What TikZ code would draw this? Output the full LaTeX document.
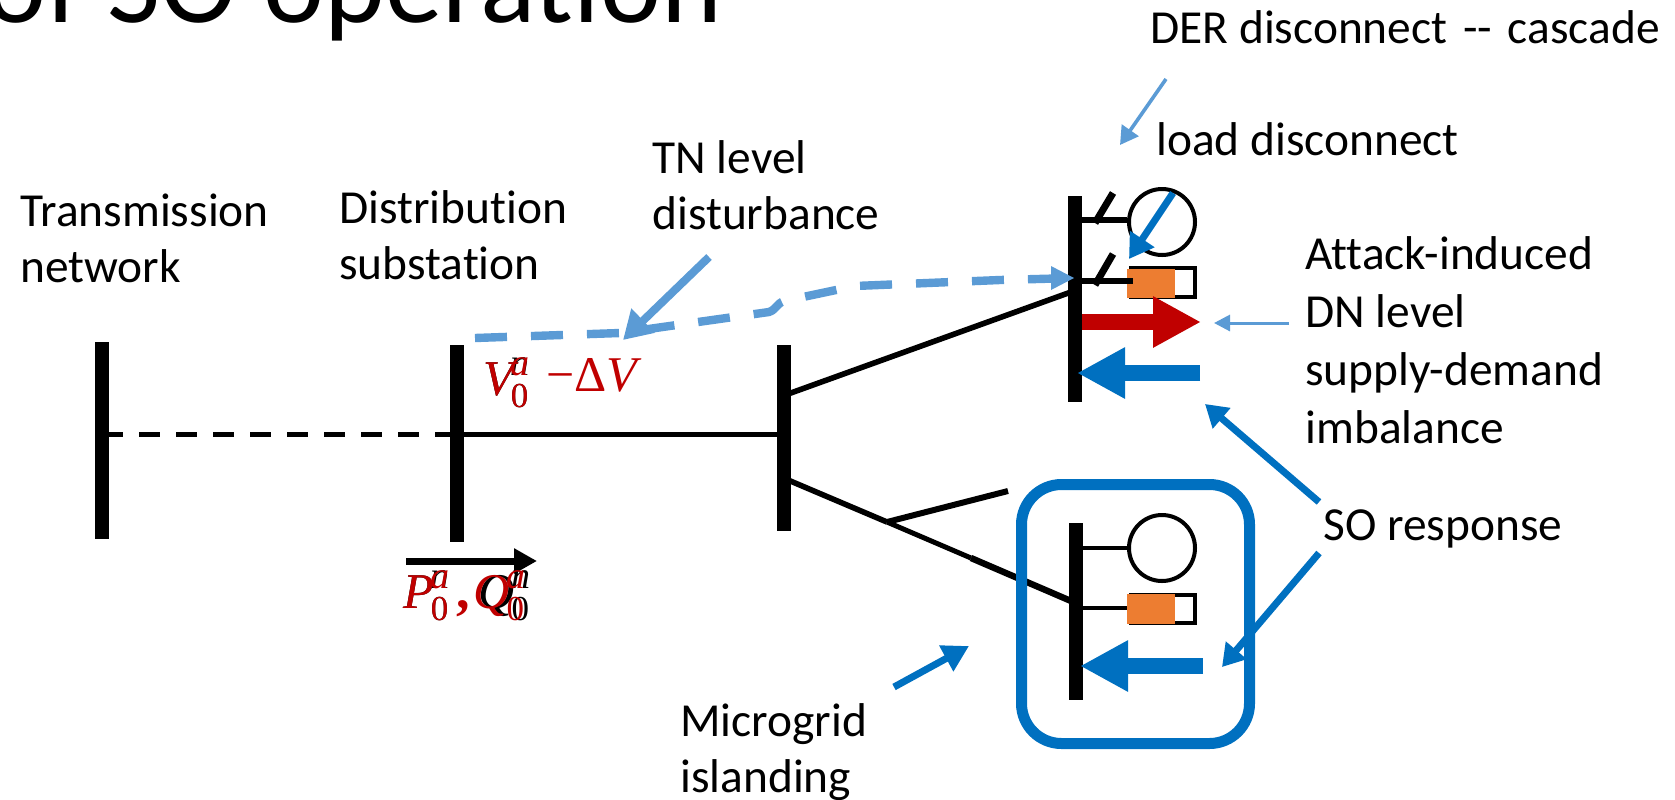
\documentclass[tikz,border=0pt]{standalone}
\usepackage{fontspec}
\setmainfont{Carlito}[Ligatures=NoCommon]
\newfontfamily\mfont{Liberation Serif}
\usetikzlibrary{arrows.meta}
\definecolor{sblue}{HTML}{0070C0}
\definecolor{lblue}{HTML}{5B9BD5}
\definecolor{dred}{HTML}{C00000}
\definecolor{orng}{HTML}{ED7D31}
\newcommand{\msym}[3]{{\mfont\fontsize{25}{26}\selectfont\itshape #1}\kern-1.5pt\rlap{\raisebox{10pt}{\mfont\fontsize{19}{20}\selectfont\itshape #2}}\raisebox{-6pt}{\mfont\fontsize{17.5}{20}\selectfont #3}}
\tikzset{
  x=0.5pt,y=-0.5pt,
  busbar/.style={line width=7pt},
  wire/.style={line width=2.8pt},
  thinwire/.style={line width=2.5pt},
  blade/.style={line width=3.5pt},
  txt/.style={font=\fontsize{23.7}{28}\selectfont,align=left,anchor=north west,inner sep=0pt},
  mth/.style={font=\mfont\fontsize{25}{26}\selectfont,inner sep=0pt,anchor=base west},
  bigarrow/.style={line width=8pt,-{Triangle[length=24pt,width=24pt]}},
  medarrow/.style={line width=3.5pt,-{Triangle[length=11pt,width=13pt]}},
  thinarrow/.style={line width=1.5pt,lblue,-{Triangle[length=8pt,width=8pt]}},
}
\begin{document}
\begin{tikzpicture}
\useasboundingbox (0,0) rectangle (1675,799);
\clip (0,0) rectangle (1675,799);
\node[inner sep=0pt,anchor=base west,font=\fontsize{57.8}{66}\selectfont] (title) at (-15,22) {of SO operation};
% buses
\coordinate (b1t) at (102,342); \coordinate (b1b) at (102,539);
\coordinate (b2t) at (456.5,345); \coordinate (b2b) at (456.5,542);
\coordinate (b3t) at (784,345); \coordinate (b3b) at (784,531);
\coordinate (b4t) at (1075,196); \coordinate (b4b) at (1075,402);
\coordinate (b5t) at (1075.5,523); \coordinate (b5b) at (1075.5,700);
\foreach \a/\b in {b1t/b1b,b2t/b2b,b3t/b3b,b4t/b4b,b5t/b5b}{\draw[busbar] (\a) -- (\b);}
% feeders
\coordinate (j1) at (102,434); \coordinate (j2) at (456.5,434); \coordinate (j3) at (784,434);
\draw[line width=2.5pt,dash pattern=on 10.5pt off 8pt] (j1) -- (j2);
\draw[line width=2.5pt] (j2) -- (j3);
\coordinate (u1) at (788,394); \coordinate (u2) at (1071,292);
\draw[wire] (u1) -- (u2);
\coordinate (l1) at (788,480); \coordinate (l2) at (887,522); \coordinate (l3) at (971,558); \coordinate (l4) at (1071,601); \coordinate (l5) at (1008,491);
\draw[wire] (l1) -- (l2);
\draw[thinwire] (l2) -- (l3);
\draw[line width=3.2pt] (l3) -- (l4);
\draw[line width=3pt] (l2) -- (l5);
% top feeder units
\node[circle,draw,line width=2pt,minimum size=33pt,inner sep=0pt] (g1) at (1162,222) {};
\node[circle,draw,line width=2pt,minimum size=33pt,inner sep=0pt] (g2) at (1162,548) {};
\draw[line width=3pt] (1082,219.5) -- (g1.west |- 1082,219.5);
\draw[blade] (1095,223) -- (1113,193);
\draw[blade] (1095,285) -- (1113,254);
\draw[line width=2pt] (1082,548) -- (g2.west);
\draw[line width=2pt] (1082,607.5) -- (1128,607.5);
% loads
\draw[line width=2pt] (1131,268) rectangle (1195,296.5);
\fill[orng] (1127,269) rectangle (1175,298);
\draw[line width=3pt] (1082,281) -- (1133,281);
\draw[line width=2pt] (1131,595) rectangle (1195,623);
\fill[orng] (1127,594) rectangle (1175,624);
% big arrows
\draw[bigarrow,dred] (1082,322) -- (1201,322);
\draw[bigarrow,sblue] (1200,373) -- (1077,373);
\draw[bigarrow,sblue] (1203,666) -- (1080,666);
% box
\node[draw=sblue,line width=5.5pt,rounded corners=20pt,minimum width=114pt,minimum height=129.5pt,inner sep=0pt] (mg) at (1135.5,614) {};
% pointers
\coordinate (ta) at (1173,193); \coordinate (tb) at (1129,259);
\draw[medarrow,sblue,-{Triangle[length=12pt,width=14pt]}] (ta) -- (tb);
\draw[medarrow,sblue] (1319,502) -- (1205,404);
\draw[medarrow,sblue] (1319,553) -- (1222,667);
\draw[medarrow,sblue,-{Triangle[length=13pt,width=14pt]}] (894,687) -- (969,646);
\draw[thinarrow] (1289,323) -- (1214,323);
\draw[thinarrow,line width=1.8pt,-{Triangle[length=9pt,width=10pt]}] (1166,79) -- (1120,145);
% disturbance
\draw[lblue,line width=4.2pt,dash pattern=on 16pt off 12pt] (475,338) -- (620,333) -- (769,312) .. controls (777,309) and (776,304) .. (784,301) -- (855,286) -- (1000,280) -- (1056,278.5);
\fill[lblue] (1074,278) -- (1051,290) -- (1051,266) -- cycle;
\draw[medarrow,lblue,line width=4pt,-{Triangle[length=14pt,width=16pt]}] (709,257) -- (623,340);
% power arrow
\draw[line width=3.5pt,-{Triangle[length=11.5pt,width=12pt]}] (406,561) -- (537,561);
% math
\node[mth,text=black] (v0b) at (483,395) {\msym{V}{n}{0}};
\node[mth,text=dred] (v0r) at (483,395) {\msym{V}{a}{0}};
\node[mth,text=dred] (dv) at (546,391) {−Δ{\itshape V}};
\node[mth,text=black] (pb) at (403,608) {\msym{P}{n}{0}};
\node[mth,text=dred] (pr) at (403,608) {\msym{P}{a}{0}};
\node[mth,text=dred,font=\mfont\bfseries\fontsize{27}{28}\selectfont] (cm) at (456,608) {,};
\node[mth,text=black] (qb) at (478,608) {\msym{Q}{n}{0}};
\node[mth,text=dred] (qr) at (473,608) {\msym{Q}{a}{0}};
% labels
\node[txt] (t1) at (20,193) {Transmission\\network};
\node[txt] (t2) at (339,190) {Distribution\\substation};
\node[txt] (t3) at (652,140) {TN level\\disturbance};
\node[txt] (t4) at (1150,10) {DER disconnect\,\,-{}-\,\,cascade};
\node[txt] (t5) at (1156,122) {load disconnect};
\node[txt,font=\fontsize{23.7}{29}\selectfont] (t6) at (1305,236) {Attack-induced\\DN level\\supply-demand\\imbalance};
\node[txt] (t7) at (1323,509) {SO response};
\node[txt] (t8) at (680,703) {Microgrid\\islanding};
\end{tikzpicture}
\end{document}
